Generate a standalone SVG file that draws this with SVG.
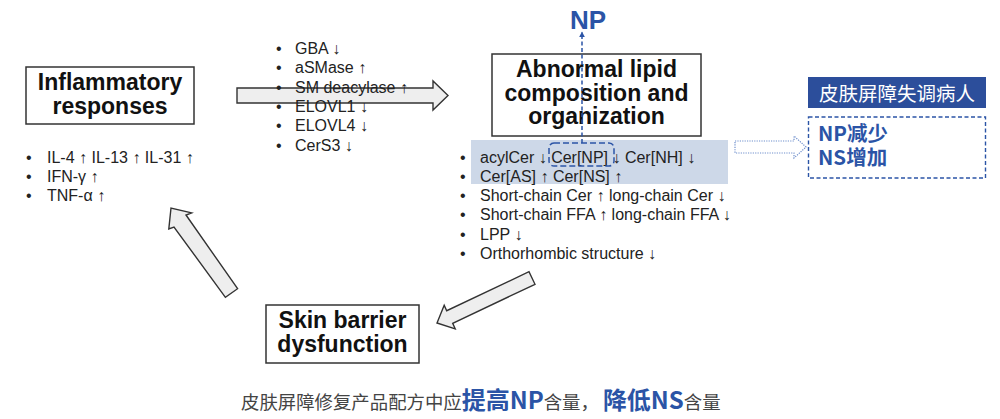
<svg xmlns="http://www.w3.org/2000/svg" width="1000" height="419" viewBox="0 0 1000 419">
<defs>
<style>
.box{fill:#fff;stroke:#333;stroke-width:1.5}
.title{font-family:"Liberation Sans",Arial,sans-serif;font-weight:bold;font-size:23px;fill:#111;text-anchor:middle}
.li{font-family:"Liberation Sans",Arial,sans-serif;font-size:16px;fill:#222}
.fat{fill:#eeeeee;stroke:#333;stroke-width:1.4;stroke-linejoin:miter}
.blue{fill:#2b54a6}
.cjk{font-family:"Noto Sans CJK SC","Noto Sans",sans-serif}
</style>
<marker id="ah" viewBox="0 0 10 10" refX="9" refY="5" markerWidth="4" markerHeight="4" orient="auto">
<path d="M0,0 L10,5 L0,10 z" fill="#2b54a6"/>
</marker>
</defs>
<rect width="1000" height="419" fill="#fff"/>

<g id="connectors">
<polygon class="fat" points="237,88 433,88 433,81 448,95.5 433,110 433,103 237,103"/>
<polygon class="fat" points="237.6,288.7 186,215 191.6,212.9 171,208 168.8,229 174,227 225.4,297.3"/>
<polygon class="fat" points="535,284.3 452.7,323.3 455.2,328.8 437,323 444.2,305.2 446.7,310.7 529,271.7"/>
<polygon points="735,141 794,141 794,136 806,147 794,158 794,153 735,153" fill="#fff" stroke="#6f8fcc" stroke-width="1.2" stroke-dasharray="1.2 1.2"/>
</g>

<g id="inflammatory">
<rect class="box" x="26" y="67" width="168" height="57"/>
<text class="title" x="110" y="90">Inflammatory</text>
<text class="title" x="110" y="114">responses</text>
</g>

<g id="cytokines" class="li">
<text x="26" y="163">•</text><text x="47" y="163">IL-4 ↑ IL-13 ↑ IL-31 ↑</text>
<text x="26" y="182">•</text><text x="47" y="182">IFN-γ ↑</text>
<text x="26" y="201">•</text><text x="47" y="201">TNF-α ↑</text>
</g>

<g id="enzymes" class="li">
<text x="276" y="54">•</text><text x="295" y="54">GBA ↓</text>
<text x="276" y="73.3">•</text><text x="295" y="73.3">aSMase ↑</text>
<text x="276" y="92.6">•</text><text x="295" y="92.6">SM deacylase ↑</text>
<text x="276" y="111.9">•</text><text x="295" y="111.9">ELOVL1 ↓</text>
<text x="276" y="131.2">•</text><text x="295" y="131.2">ELOVL4 ↓</text>
<text x="276" y="150.5">•</text><text x="295" y="150.5">CerS3 ↓</text>
</g>

<g id="abnormal">
<rect class="box" x="492" y="54" width="209" height="82"/>
<text class="title" x="596.5" y="77">Abnormal lipid</text>
<text class="title" x="596.5" y="100.5">composition and</text>
<text class="title" x="596.5" y="124">organization</text>
</g>

<g id="lipids">
<rect x="471" y="140" width="257" height="44" fill="#cdd8e8"/>
<g class="li">
<text x="460" y="162.5">•</text><text x="480" y="162.5">acylCer ↓ Cer[NP] ↓ Cer[NH] ↓</text>
<text x="460" y="181.8">•</text><text x="480" y="181.8">Cer[AS] ↑ Cer[NS] ↑</text>
<text x="460" y="201">•</text><text x="480" y="201">Short-chain Cer ↑ long-chain Cer ↓</text>
<text x="460" y="220.3">•</text><text x="480" y="220.3">Short-chain FFA ↑ long-chain FFA ↓</text>
<text x="460" y="239.7">•</text><text x="480" y="239.7">LPP ↓</text>
<text x="460" y="259">•</text><text x="480" y="259">Orthorhombic structure ↓</text>
</g>
<rect x="549" y="143" width="65" height="23" rx="5" fill="none" stroke="#2b54a6" stroke-width="1.5" stroke-dasharray="6 3"/>
</g>

<g id="np-arrow">
<line x1="582" y1="143" x2="582" y2="32" stroke="#2b54a6" stroke-width="1.5" stroke-dasharray="4 2.5" marker-end="url(#ah)"/>
<text x="570" y="29" class="blue" font-family="Liberation Sans,Arial,sans-serif" font-weight="bold" font-size="26">NP</text>
</g>

<g id="skin-barrier">
<rect class="box" x="266" y="305" width="153" height="58"/>
<text class="title" x="342.5" y="328">Skin barrier</text>
<text class="title" x="342.5" y="352">dysfunction</text>
</g>

<g id="patients">
<rect x="808" y="77" width="178" height="31" fill="#2c4e9b"/>
<text x="897" y="100.5" class="cjk" font-size="19.5" fill="#fff" text-anchor="middle">皮肤屏障失调病人</text>
<rect x="808.5" y="117" width="177" height="61" fill="#fff" stroke="#2b54a6" stroke-width="1.4" stroke-dasharray="4 2.5"/>
<text x="818" y="140.5" class="cjk blue" font-size="20.5" font-weight="bold">NP减少</text>
<text x="818" y="164.5" class="cjk blue" font-size="20.5" font-weight="bold">NS增加</text>
</g>

<g id="conclusion">
<text x="241" y="409" class="cjk" font-size="18.4" fill="#444">皮肤屏障修复产品配方中应<tspan class="blue" font-size="24" font-weight="bold">提高NP</tspan>含量，<tspan class="blue" font-size="24" font-weight="bold" dx="4">降低NS</tspan>含量</text>
</g>
</svg>
